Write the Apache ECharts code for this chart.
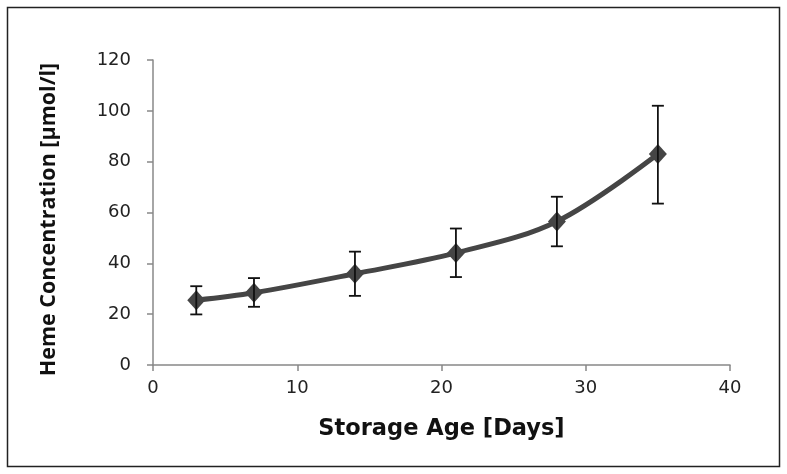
<!DOCTYPE html>
<html><head><meta charset="utf-8">
<script src="https://cdn.jsdelivr.net/npm/echarts@6/dist/echarts.min.js"></script>
<style>html,body{margin:0;padding:0;background:#fff}#c{width:787px;height:474px}</style>
</head><body><div id="c"></div>
<script>
var days = [3, 7, 14, 21, 28, 35];
var heme = [25.5, 28.4, 35.9, 44.1, 56.5, 83.0];
var errHigh = [31.0, 34.2, 44.6, 53.7, 66.2, 102.0];
var errLow = [19.9, 22.9, 27.2, 34.6, 46.7, 63.5];
var xTicks = [0, 10, 20, 30, 40];
var yTicks = [0, 20, 40, 60, 80, 100, 120];

var chart = echarts.init(document.getElementById('c'));
var lineData = days.map(function(d, i){ return [d, heme[i]]; });
var errData = days.map(function(d, i){ return [d, errLow[i], errHigh[i]]; });
var font = 'Open Sans';
var wide = 'DejaVu Sans';
chart.setOption({
  animation: false,
  graphic: [{type:'rect', shape:{x:7.5, y:7.5, width:772, height:459}, style:{fill:'none', stroke:'#222', lineWidth:1.5}}],
  grid: {left:153, right:57, top:60, bottom:109},
  xAxis: {
    type:'value', min:xTicks[0], max:xTicks[xTicks.length-1], interval:10,
    name:'Storage Age [Days]', nameLocation:'middle', nameGap:53,
    nameTextStyle:{fontFamily:wide, fontWeight:'bold', fontSize:22.5, color:'#111'},
    axisLine:{show:true, lineStyle:{color:'#888', width:1.5}},
    axisTick:{show:true, length:6, lineStyle:{color:'#888', width:1.5}},
    axisLabel:{fontFamily:wide, fontSize:18, color:'#222', margin:14},
    splitLine:{show:false}
  },
  yAxis: {
    type:'value', min:yTicks[0], max:yTicks[yTicks.length-1], interval:20,
    name:'Heme Concentration [µmol/l]', nameLocation:'middle', nameGap:93, nameRotate:90,
    nameTextStyle:{fontFamily:font, fontWeight:'bold', fontSize:21.5, color:'#111', padding:[0, 14, 0, 0]},
    axisLine:{show:true, lineStyle:{color:'#888', width:1.5}},
    axisTick:{show:true, length:6, lineStyle:{color:'#888', width:1.5}},
    axisLabel:{fontFamily:wide, fontSize:18, color:'#222', margin:22},
    splitLine:{show:false}
  },
  series: [
    {
      type:'line', data:lineData, smooth:0.35, symbol:'diamond', symbolSize:[18,20],
      lineStyle:{color:'#454545', width:5}, itemStyle:{color:'#454545'}, z:2
    },
    {
      type:'custom', data:errData, z:3,
      renderItem:function(params, api){
        var x = api.value(0);
        var lo = api.coord([x, api.value(1)]);
        var hi = api.coord([x, api.value(2)]);
        var w = 6;
        var st = {stroke:'#111', lineWidth:1.8};
        return {type:'group', children:[
          {type:'line', shape:{x1:lo[0], y1:lo[1], x2:hi[0], y2:hi[1]}, style:st},
          {type:'line', shape:{x1:lo[0]-w, y1:lo[1], x2:lo[0]+w, y2:lo[1]}, style:st},
          {type:'line', shape:{x1:hi[0]-w, y1:hi[1], x2:hi[0]+w, y2:hi[1]}, style:st}
        ]};
      }
    }
  ]
});
</script></body></html>
